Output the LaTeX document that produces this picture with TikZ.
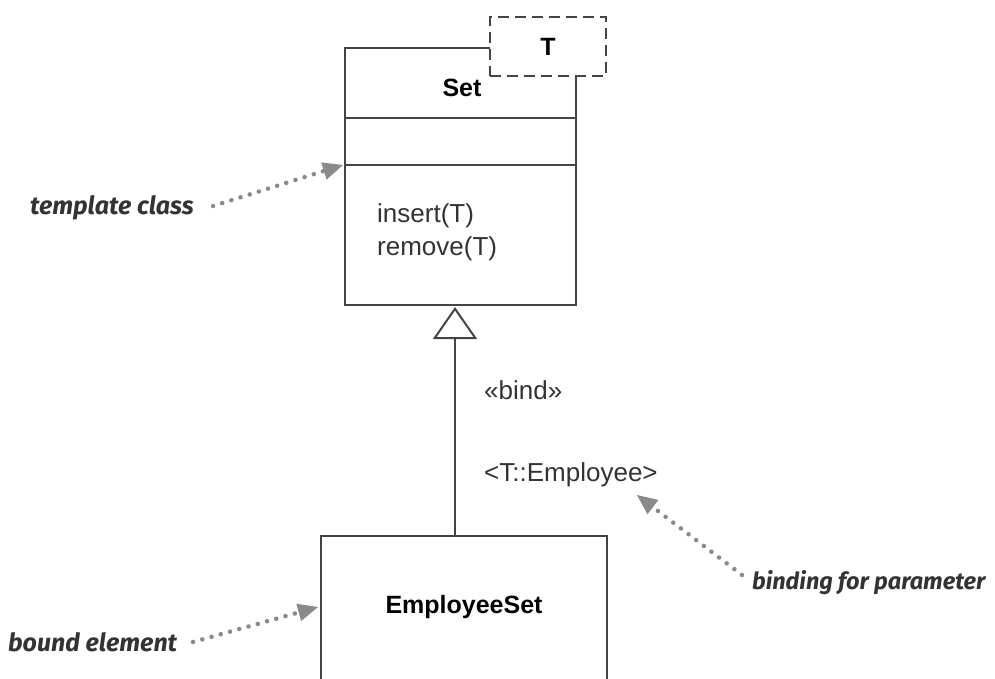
\documentclass[tikz,border=0pt]{standalone}
\usepackage{fontspec}
\setmainfont{Liberation Sans}
\newfontfamily\handfont{Fira Sans}
\usetikzlibrary{arrows.meta,calc}
\definecolor{linegray}{HTML}{444444}
\definecolor{notegray}{HTML}{8A8A8A}
\definecolor{textgray}{HTML}{333333}
\tikzset{
  umlbox/.style={draw=linegray, line width=2pt, fill=white, inner sep=0pt},
  membertext/.style={anchor=west, inner sep=0pt, text=textgray, font=\fontsize{26}{30}\selectfont},
  nametext/.style={inner sep=0pt, text=black, font=\fontsize{25}{30}\selectfont\bfseries},
  notetext/.style={anchor=west, inner sep=0pt, text=textgray, font=\handfont\fontsize{25}{30}\selectfont\bfseries\itshape},
  notearrow/.style={draw=notegray, line width=4.5pt, dash pattern=on 0.1pt off 9.5pt, line cap=round,
    -{Triangle[length=20pt,width=18pt,fill=notegray,line width=0pt,sep=0pt]}},
  bindline/.style={draw=linegray, line width=2pt, -{Triangle[open,length=32pt,width=44pt,line width=2pt,fill=white]}},
}
\begin{document}
\begin{tikzpicture}[x=1pt,y=-1pt]
\useasboundingbox (0,0) rectangle (995,679);
\clip (0,0) rectangle (995,679);
% template class Set
\node[umlbox, minimum width=231pt, minimum height=257pt] (set) at (460.5,176.5) {};
\draw[linegray, line width=2pt] (set.west |- 0,118) coordinate (c1) -- (set.east |- 0,118);
\draw[linegray, line width=2pt] (set.west |- 0,165) coordinate (c2) -- (set.east |- 0,165);
\node[umlbox, dashed, dash pattern=on 11pt off 6pt, minimum width=116pt, minimum height=59pt] (tpar) at (548,46.5) {};
\node[nametext] (tlabel) at (tpar.center) {T};
\node[nametext] (setname) at (462,88) {Set};
\node[membertext] (ins) at (377,216) {insert(T)};
\node[membertext] (rem) at (377,249) {remove(T)};
% bound element
\node[umlbox, minimum width=286pt, minimum height=300pt, anchor=north] (emp) at (464,535) {};
\node[nametext] (empname) at (464,607) {EmployeeSet};
% bind relationship
\coordinate (bindtop) at (455,307);
\coordinate (bindbot) at (455,535);
\draw[bindline] (bindbot) -- (bindtop);
\node[membertext] (bind) at (484,390) {«bind»};
\node[membertext] (targ) at (484,475) {<T::Employee>};
% notes
\node[notetext] (n1) at (30,208) {template class};
\node[notetext] (n2) at (8,642) {bound element};
\node[notetext, font=\handfont\fontsize{23.5}{28}\selectfont\bfseries\itshape] (n3) at (752,583) {binding for parameter};
\coordinate (s1) at (213,206);
\coordinate (s2) at (193,642);
\coordinate (s3) at (742,575);
\coordinate (t1) at (343,165);
\coordinate (t2) at (318,607);
\coordinate (t3) at (637,495);
\draw[notearrow] (s1) -- (t1);
\draw[notearrow] (s2) -- (t2);
\draw[notearrow] (s3) -- (t3);
\end{tikzpicture}
\end{document}
